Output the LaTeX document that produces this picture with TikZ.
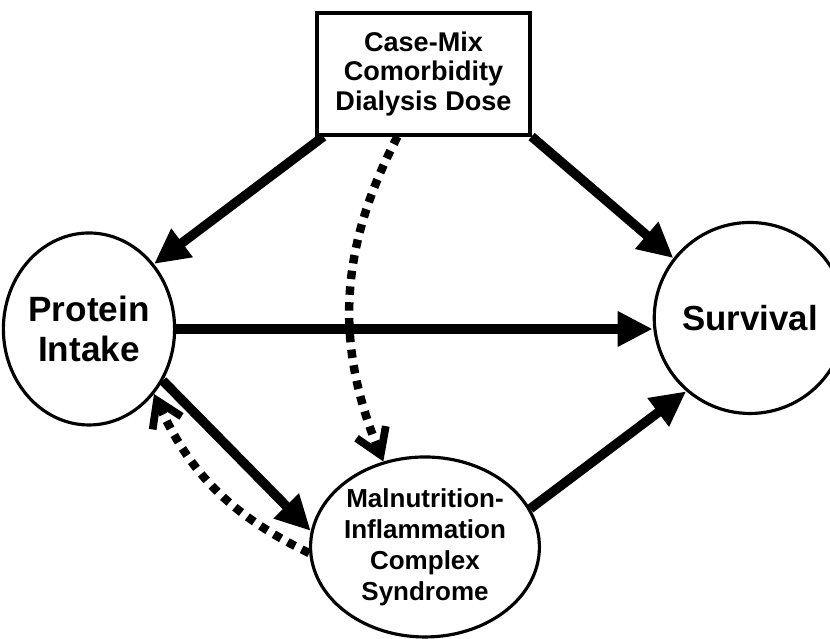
\documentclass[tikz,border=0pt]{standalone}
\usepackage{fontspec}
\setmainfont{Liberation Sans}
\usetikzlibrary{arrows.meta,shapes.geometric}

\begin{document}
\begin{tikzpicture}[
    oval/.style={draw, ellipse, line width=0.9pt, inner sep=0pt, align=center},
    bigarrow/.style={line width=2.7pt, -{Triangle[length=10pt,width=9.5pt]}},
    dotarrow/.style={line width=2.4pt, dash pattern=on 2.4pt off 2.1pt,
      -{Straight Barb[length=7pt,width=9pt,line width=2.2pt]}}
  ]
  \useasboundingbox (0,0) rectangle (8.3,6.39);

  % Boxes and ovals
  \node[draw, line width=0.9pt, minimum width=2.13cm, minimum height=1.22cm, align=center,
    font=\bfseries\fontsize{7.7}{8.5}\selectfont] (box) at (4.235,5.65)
    {Case-Mix\\Comorbidity\\Dialysis Dose};
  \node[oval, minimum width=1.58cm, minimum height=1.92cm,
    font=\bfseries\fontsize{10}{11.3}\selectfont] (prot) at (0.89,3.10) {Protein\\Intake};
  \node[oval, minimum width=1.56cm, minimum height=1.91cm,
    font=\bfseries\fontsize{9.9}{11.3}\selectfont] (surv) at (7.50,3.21) {Survival};
  \node[oval, minimum width=2.14cm, minimum height=1.80cm,
    font=\bfseries\fontsize{7.4}{8.8}\selectfont] (mic) at (4.25,0.92)
    {Malnutrition-\\Inflammation\\Complex\\Syndrome};

  % Solid arrows
  \draw[bigarrow] ([xshift=0.08cm]box.south west) -- (prot.45);
  \draw[bigarrow] (box.south east) -- (surv.142);
  \draw[bigarrow] (prot.east) -- (prot.east -| surv.west);
  \draw[bigarrow] (prot.-35) -- (mic.172);
  \draw[bigarrow] (mic.20) -- (surv.229);

  % Dashed arrows
  \draw[dotarrow] ([xshift=-0.26cm]box.south) to[bend right=25] (mic.116);
  \draw[dotarrow] (mic.183) to[bend left=20] (prot.-45);
\end{tikzpicture}
\end{document}
